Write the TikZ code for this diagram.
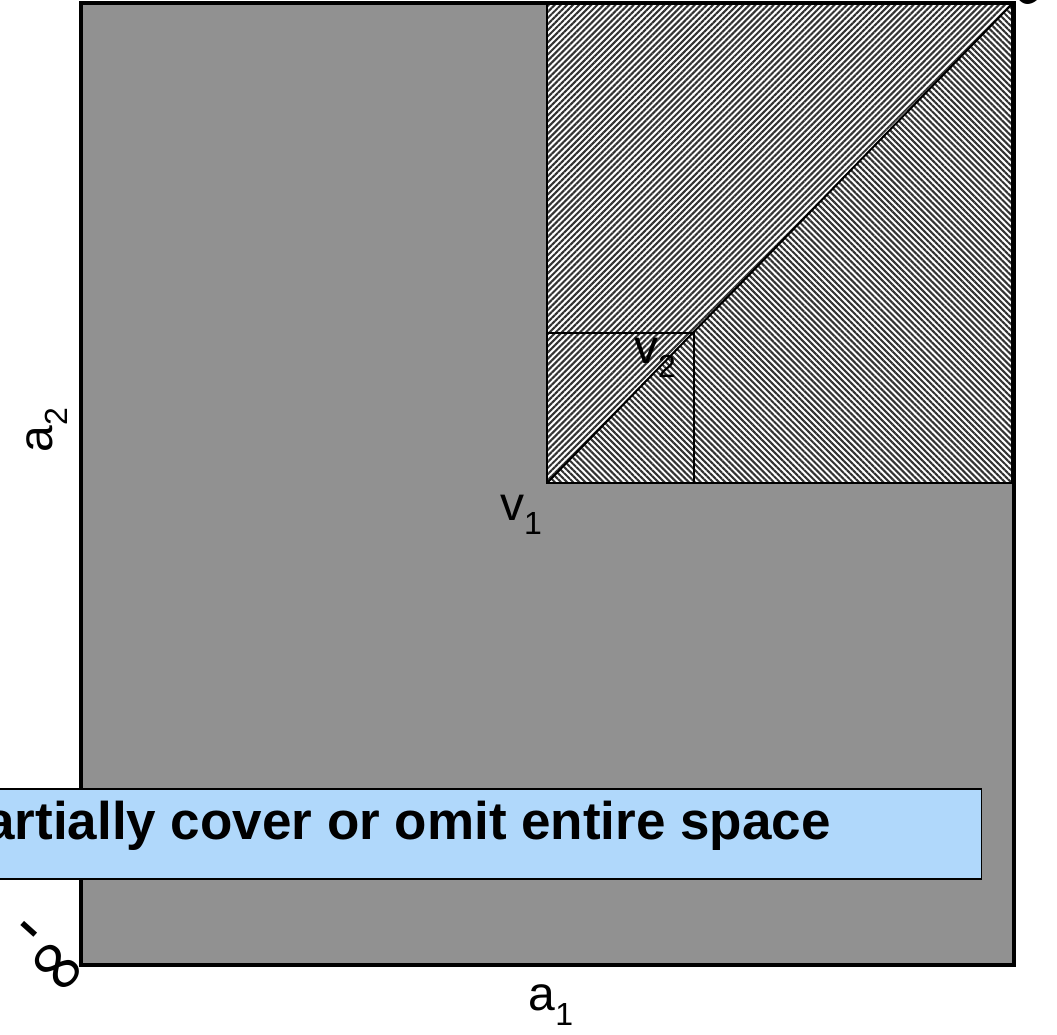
\documentclass[tikz,border=0pt]{standalone}
\usepackage{fontspec}
\setmainfont{Liberation Sans}
\newfontfamily\symfont{DejaVu Sans}
\usetikzlibrary{patterns.meta}
\definecolor{areagray}{RGB}{145,145,145}
\definecolor{boxblue}{RGB}{176,216,251}
\newcommand{\lowsub}[1]{\raisebox{-0.3em}{\fontsize{32}{32}\selectfont #1}}
\tikzset{
  lbl/.style={inner sep=0pt, font=\fontsize{48}{58}\selectfont},
  inflbl/.style={inner sep=0pt, font=\symfont\fontsize{76}{76}\selectfont},
  hatchNE/.style={pattern={Lines[angle=45,distance=4.3pt,line width=2.1pt]}, pattern color=black!80},
  hatchNW/.style={pattern={Lines[angle=-45,distance=4.3pt,line width=2.1pt]}, pattern color=black!80},
  thinline/.style={line width=2pt},
  border/.style={line width=4.5pt},
}
\begin{document}
\begin{tikzpicture}[x=1pt,y=-1pt]
\useasboundingbox (0,0) rectangle (1057,1034);
\clip (0,0) rectangle (1057,1034);
% grey space
\fill[areagray] (81,3) rectangle (1014,965);
% hatched region
\coordinate (v1) at (547,483);
\coordinate (tr) at (1012,4);
\coordinate (tl) at (547,4);
\coordinate (br) at (1012,483);
\fill[white] (tl) rectangle (br);
\fill[hatchNE] (v1) -- (tl) -- (tr) -- cycle;
\fill[hatchNW] (v1) -- (tr) -- (br) -- cycle;
\draw[thinline] (tl) rectangle (br);
\draw[thinline] (v1) -- (tr);
\draw[thinline] (547,333) rectangle (694,483);
% outer border
\draw[border] (81,3) rectangle (1014,965);
% labels
\node[lbl] (lv1) at (521,515) {v\lowsub{1}};
\node[lbl] (lv2) at (655,358) {v\lowsub{2}};
\node[lbl] (la1) at (551,1005) {a\lowsub{1}};
\node[lbl, rotate=90] (la2) at (47,430) {a\lowsub{2}};
\node[lbl, font=\fontsize{72}{72}\selectfont, rotate=-42] (minsign) at (24,935) {-};
\node[inflbl, rotate=-40] (minf) at (55,970) {∞};
\node[inflbl, rotate=-40] (pinf) at (1019,-13) {∞};
% message box
\node[draw=black, line width=1.5pt, fill=boxblue, minimum height=90pt,
      minimum width=1060pt, anchor=north east, inner sep=0pt] (msg) at (982,788) {};
\node[anchor=base east, inner sep=0pt, font=\fontsize{53}{60}\selectfont\bfseries] (msgtext) at (831,839) {Partially cover or omit entire space};
\end{tikzpicture}
\end{document}
